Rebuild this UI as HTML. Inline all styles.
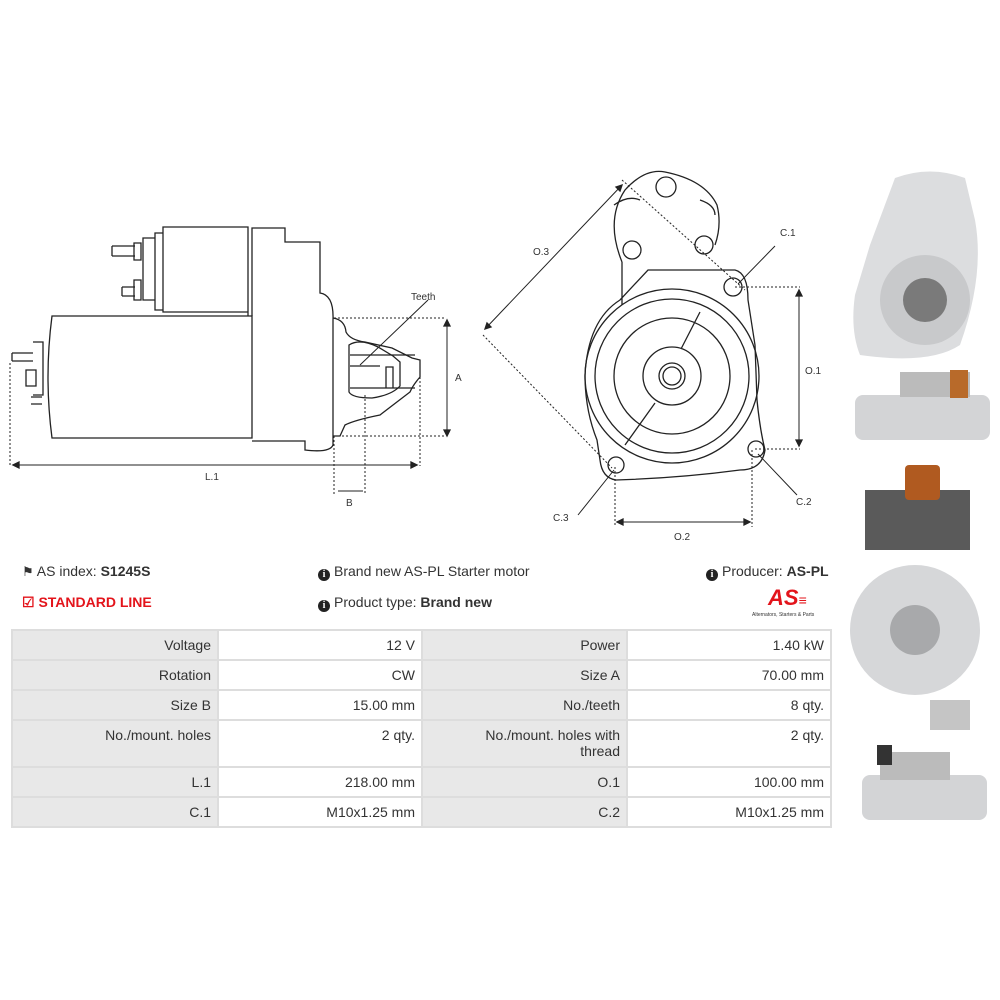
<!DOCTYPE html>
<html><head><meta charset="utf-8"><style>
body{margin:0;background:#fff;width:1000px;height:1000px;position:relative;font-family:"Liberation Sans",sans-serif;color:#333;overflow:hidden}
.t{position:absolute;font-size:14px;white-space:nowrap}
.i{display:inline-block;width:12px;height:12px;border-radius:50%;background:#222;color:#fff;font-size:10px;font-weight:bold;text-align:center;line-height:12px;vertical-align:-1px;margin-right:4px;font-family:"Liberation Serif",serif}
table{position:absolute;left:11px;top:629px;border-collapse:collapse;font-size:14px;color:#333}
td{border:2px solid #ddd;padding:6px 6px;text-align:right;vertical-align:top;height:15px}
td.l{background:#e8e8e8}
td.v{background:#fff}
</style></head><body>
<svg width="1000" height="1000" style="position:absolute;left:0;top:0" fill="none" stroke="#222" stroke-width="1.3" font-family="Liberation Sans" font-size="10">
<path d="M52 316 H252 V438 H52 Q44 377 52 316Z"/>
<path d="M252 316 V228 H285 V242 H320 V293 Q334 295 333 320 V445 Q330 453 305 450 V441 H252"/>
<path d="M163 227 H248 V312 H163Z M155 233 H163 V310 H155Z M143 238 H155 V300 H143Z M248 298 V316"/>
<path d="M112 246 H135 M112 256 H135 M112 246 V256 M134 243 H141 V260 H134Z M122 287 H135 M122 296 H135 M122 287 V296 M134 280 H141 V300 H134Z"/>
<path d="M12 353 H33 M12 361 H33 M12 353 V361 M33 342 H43 V395 H33 M26 370 H36 V386 H26Z M31 397 H42 M31 404 H42"/>
<path d="M333 318 Q345 320 346 332 Q350 340 365 342 L392 348 L412 358 L420 360 V377 Q413 385 410 392 L380 415 Q355 420 345 425 L340 436 H333"/>
<path d="M349 345 Q360 338 378 347 L393 356 L400 362 V386 Q392 395 372 398 Q352 398 349 392Z"/>
<path d="M350 355 H415 M350 388 H415 M386 367 H393 V388 H386Z M350 366 H380"/>
<path d="M334 318 H445 M334 436 H445 M10 363 V466 M420 365 V466 M334 436 V494 M365 395 V494" stroke-dasharray="2 2" stroke-width="1"/>
<path d="M13 465 H417 M447 322 V434 M338 491 H363 M428 300 L360 365" stroke-width="1"/>
<path d="M13 465 l6 -3 v6z M417 465 l-6 -3 v6z M447 320 l-3 6 h6z M447 436 l-3 -6 h6z" fill="#222"/>
<text x="411" y="300" fill="#333" stroke="none">Teeth</text>
<text x="455" y="381" fill="#333" stroke="none">A</text>
<text x="205" y="480" fill="#333" stroke="none">L.1</text>
<text x="346" y="506" fill="#333" stroke="none">B</text>
<path d="M622 262 Q605 220 625 190 Q645 168 665 172 Q705 180 717 205 Q722 225 715 245 M622 262 V305 M648 270 H735 Q748 273 748 300 L755 345 L757 400 Q760 430 765 450 Q762 470 740 470 Q680 478 616 480 Q602 478 600 460 L597 440 Q585 410 585 375 Q588 320 620 300 Z"/>
<path d="M614 205 Q628 195 640 200 M700 200 Q715 205 715 215"/>
<circle cx="666" cy="187" r="10"/><circle cx="632" cy="250" r="9"/><circle cx="704" cy="245" r="9"/>
<circle cx="733" cy="287" r="9"/><circle cx="756" cy="449" r="8"/><circle cx="616" cy="465" r="8"/>
<circle cx="672" cy="376" r="87"/><circle cx="672" cy="376" r="77"/><circle cx="672" cy="376" r="58"/><circle cx="672" cy="376" r="29"/><circle cx="672" cy="376" r="13"/><circle cx="672" cy="376" r="9"/>
<path d="M700 312 L681 349 M655 403 L625 445"/>
<path d="M622 180 L745 290 M483 335 L612 468 M735 287 H800 M755 449 H800 M615 467 V527 M752 450 V527" stroke-dasharray="2 2" stroke-width="1"/>
<path d="M485 329 L622 185 M799 292 V444 M619 522 H748 M775 246 L738 284 M797 495 L758 454 M578 515 L614 470" stroke-width="1"/>
<path d="M622 185 l-2 6 l-4 -4z M485 329 l2 -6 l4 4z M799 290 l-3 6 h6z M799 446 l-3 -6 h6z M617 522 l6 -3 v6z M750 522 l-6 -3 v6z" fill="#222"/>
<text x="533" y="255" fill="#333" stroke="none">O.3</text>
<text x="780" y="236" fill="#333" stroke="none">C.1</text>
<text x="805" y="374" fill="#333" stroke="none">O.1</text>
<text x="796" y="505" fill="#333" stroke="none">C.2</text>
<text x="553" y="521" fill="#333" stroke="none">C.3</text>
<text x="674" y="540" fill="#333" stroke="none">O.2</text>
<g stroke="none">
<path d="M895 178 Q930 165 965 178 L975 220 Q985 275 960 345 Q930 365 860 355 Q850 330 855 295 L870 245Z" fill="#dcdddf"/>
<circle cx="925" cy="300" r="45" fill="#c8c9cb"/><circle cx="925" cy="300" r="22" fill="#7a7a7a"/>
<rect x="855" y="395" width="135" height="45" rx="8" fill="#d3d4d6"/><rect x="900" y="372" width="70" height="25" fill="#bbb"/>
<rect x="950" y="370" width="18" height="28" fill="#b86a2a"/>
<circle cx="915" cy="630" r="65" fill="#d6d7d9"/><circle cx="915" cy="630" r="25" fill="#a8a9ab"/>
<rect x="865" y="490" width="105" height="60" fill="#5a5a5a"/><rect x="905" y="465" width="35" height="35" rx="4" fill="#b05a20"/>
<rect x="930" y="700" width="40" height="30" fill="#c5c5c5"/>
<rect x="862" y="775" width="125" height="45" rx="8" fill="#d3d4d6"/><rect x="880" y="752" width="70" height="28" fill="#bbb"/><rect x="877" y="745" width="15" height="20" fill="#333"/>
</g>
</svg>
<div class="t" style="left:22px;top:563px"><span style="font-size:13px">&#9873;</span> AS index: <b>S1245S</b></div>
<div class="t" style="left:22px;top:594px;color:#e3141b;font-weight:bold">&#9745; STANDARD LINE</div>
<div class="t" style="left:318px;top:563px"><span class="i">i</span>Brand new AS-PL Starter motor</div>
<div class="t" style="left:318px;top:594px"><span class="i">i</span>Product type: <b>Brand new</b></div>
<div class="t" style="left:706px;top:563px"><span class="i">i</span>Producer: <b>AS-PL</b></div>
<div class="t" style="left:768px;top:585px;color:#e3141b;font-weight:bold;font-style:italic;font-size:22px">AS<span style="font-size:14px">&#8801;</span></div>
<div class="t" style="left:752px;top:612px;font-size:5px">Alternators, Starters &amp; Parts</div>
<table>
<tr><td class="l" style="width:192px">Voltage</td><td class="v" style="width:190px">12 V</td><td class="l" style="width:191px">Power</td><td class="v" style="width:190px">1.40 kW</td></tr>
<tr><td class="l">Rotation</td><td class="v">CW</td><td class="l">Size A</td><td class="v">70.00 mm</td></tr>
<tr><td class="l">Size B</td><td class="v">15.00 mm</td><td class="l">No./teeth</td><td class="v">8 qty.</td></tr>
<tr><td class="l" style="height:33px">No./mount. holes</td><td class="v">2 qty.</td><td class="l">No./mount. holes with<br>thread</td><td class="v">2 qty.</td></tr>
<tr><td class="l">L.1</td><td class="v">218.00 mm</td><td class="l">O.1</td><td class="v">100.00 mm</td></tr>
<tr><td class="l">C.1</td><td class="v">M10x1.25 mm</td><td class="l">C.2</td><td class="v">M10x1.25 mm</td></tr>
</table>
</body></html>
